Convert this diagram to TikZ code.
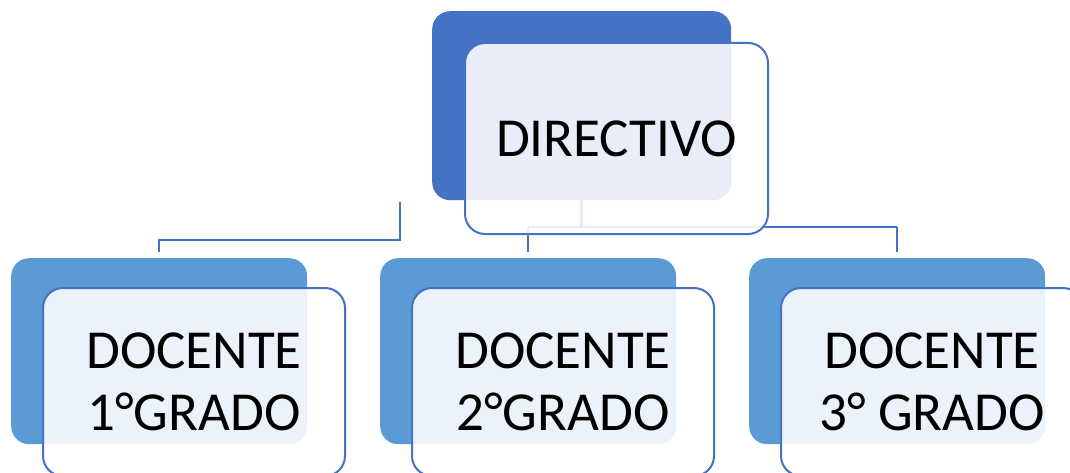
\documentclass[tikz,border=0pt]{standalone}
\usepackage{fontspec}
\setmainfont{Carlito}
\definecolor{accA}{HTML}{4472C4}
\definecolor{accB}{HTML}{5B9BD5}
\begin{document}
\begin{tikzpicture}[x=1pt,y=-1pt,
  backtop/.style={anchor=north west,fill=accA,draw=none,rounded corners=18pt,
    minimum width=299pt,minimum height=189pt,inner sep=0pt},
  backlow/.style={anchor=north west,fill=accB,draw=none,rounded corners=18pt,
    minimum width=296pt,minimum height=186pt,inner sep=0pt},
  frontbox/.style={anchor=north west,fill=white,fill opacity=0.88,text opacity=1,
    draw=accA,draw opacity=1,line width=2pt,rounded corners=20pt,
    minimum width=#1,inner sep=0pt,align=center,
    font=\fontsize{55}{62}\selectfont},
  conn/.style={draw=accA,line width=2.5pt}]
\useasboundingbox (0,0) rectangle (1070,473);
\clip (0,0) rectangle (1070,473);
% back boxes
\node[backtop] (b0) at (432,11) {};
\node[backlow] (b1) at (11,258) {};
\node[backlow] (b2) at (380,258) {};
\node[backlow] (b3) at (749,258) {};
% connector helpers
\coordinate (bus) at (0,227);
\coordinate (lt) at (400,202);
\coordinate (lbus) at (0,240);
% connectors
\draw[conn] (b0.south) -- (b0.south |- bus);
\draw[conn] (b2.north |- bus) -- (b3.north |- bus);
\draw[conn] (b2.north |- bus) -- ([yshift=6pt]b2.north);
\draw[conn] (b3.north |- bus) -- ([yshift=6pt]b3.north);
\draw[conn] (lt) -- (lt |- lbus) -- (b1.north |- lbus) -- ([yshift=6pt]b1.north);
% front boxes
\node[frontbox=303pt,minimum height=191pt] (f0) at (464,42) {DIRECTIVO};
\node[frontbox=302pt,minimum height=188pt] (f1) at (42,287) {DOCENTE\\1°GRADO};
\node[frontbox=302pt,minimum height=188pt] (f2) at (411,287) {DOCENTE\\2°GRADO};
\node[frontbox=302pt,minimum height=188pt] (f3) at (780,287) {DOCENTE\\3° GRADO};
\end{tikzpicture}
\end{document}
